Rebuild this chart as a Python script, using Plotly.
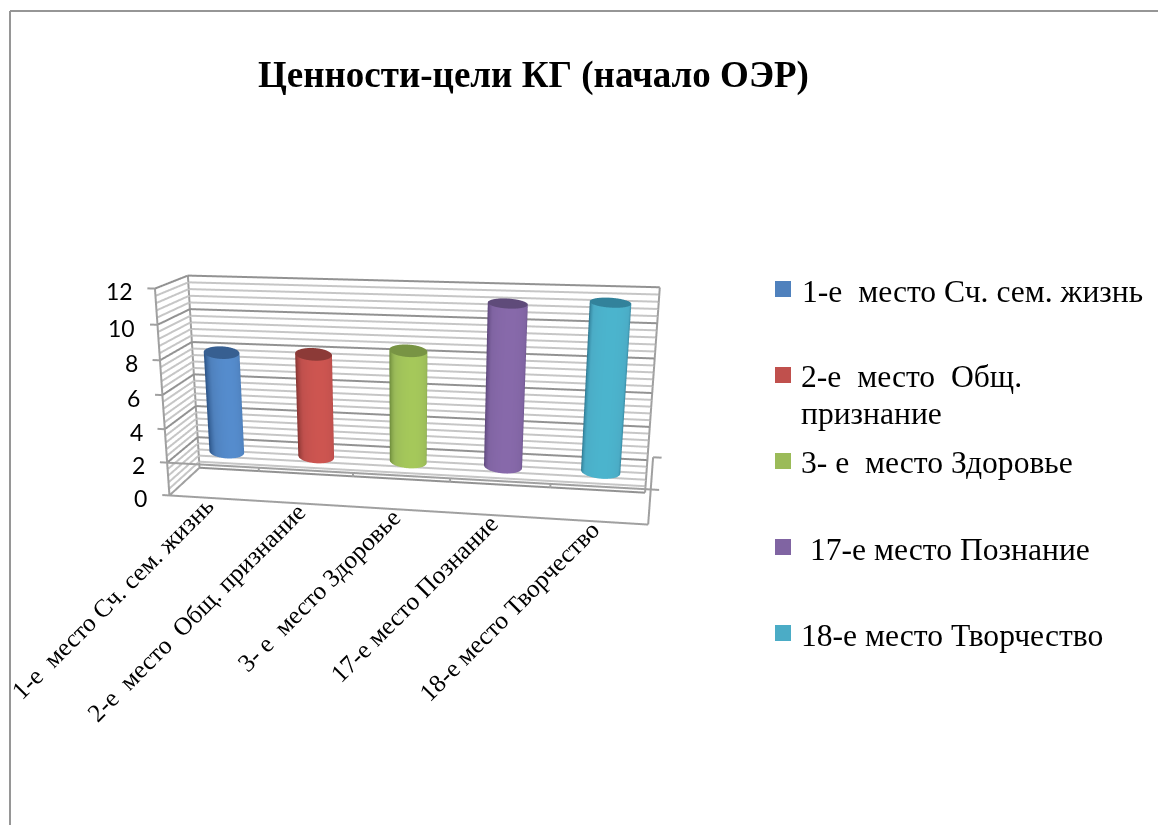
import numpy as np
import plotly.graph_objects as go

categories = ["1-е\u00a0 место Сч. сем. жизнь", "2-е\u00a0 место\u00a0 Общ. признание", "3- е\u00a0 место Здоровье",
              "17-е место Познание", "18-е место Творчество"]
values = [8.0, 8.1, 8.5, 11.3, 11.5]
z_ticks = [0, 2, 4, 6, 8, 10, 12]
axis_crossing = 2
title = "Ценности-цели КГ (начало ОЭР)"
base_colors = ["#4F81BD", "#C0504D", "#9BBB59", "#8064A2", "#4BACC6"]
dark_colors = ["#2F588C", "#8C3734", "#6E8C3C", "#5A4478", "#286E87"]
bright_colors = ["#558CCD", "#CD5550", "#A5C85A", "#8769AA", "#4BB4CD"]
lid_colors = ["#375F91", "#8C3A37", "#789444", "#5F4B7A", "#32829B"]

W, H = 1158, 825
box_depth, box_height = 0.1799, 0.4424
eye = dict(x=0.3126, y=-1.9697, z=0.5388)
center = dict(x=-0.0089, y=0, z=-0.0402)

scene = dict(
    domain=dict(x=[0, 0.6981], y=[0, 1]),
    xaxis=dict(visible=False, range=[-0.1, 5.1]),
    yaxis=dict(visible=False, range=[0, 1]),
    zaxis=dict(visible=False, range=[0, 12]),
    aspectmode="manual",
    aspectratio=dict(x=1.04, y=box_depth, z=box_height),
    camera=dict(eye=eye, center=center, up=dict(x=0, y=0, z=1)),
    bgcolor="white",
)


def segments(pairs):
    xs, ys, zs = [], [], []
    for a, b in pairs:
        xs += [a[0], b[0], None]
        ys += [a[1], b[1], None]
        zs += [a[2], b[2], None]
    return xs, ys, zs


# Wall gridlines: a major line every 2 units, four minor lines between them
minor, major = [], []
for i in range(31):
    z = i * 0.4
    (major if i % 5 == 0 else minor).extend([((0, 0, z), (0, 1, z)), ((0, 1, z), (5, 1, z))])

# Box edges, the category axis at the crossing value, and tick marks
frame = [((0, 0, 0), (0, 0, 12)), ((0, 1, 0), (0, 1, 12)), ((5, 1, 0), (5, 1, 12)),
         ((0, 0, 0), (4.97, 0, 0)), ((0, 0, 0), (0, 1, 0)),
         ((0, 0, axis_crossing), (4.97, 0, axis_crossing)),
         ((4.97, 0, 0), (4.97, 0, 3.8)),
         ((4.97, 0, axis_crossing), (5.05, 0, axis_crossing)), ((4.97, 0, 3.8), (5.05, 0, 3.8))]
frame += [((-0.08, 0, z), (0, 0, z)) for z in z_ticks]
frame += [((c, 0, axis_crossing), (c, 0, axis_crossing - 0.25)) for c in range(1, 5)]

fig = go.Figure()
for pairs, col, width in [(minor, "#c6c6c6", 4), (major, "#929292", 4), (frame, "#a0a0a0", 4)]:
    x, y, z = segments(pairs)
    fig.add_trace(go.Scatter3d(x=x, y=y, z=z, mode="lines", line=dict(color=col, width=width),
                               hoverinfo="skip", showlegend=False))

# Cylinders: shaded side surface plus a flat darker lid. The x offset along
# depth keeps the end ellipses level despite the perspective shear.
flat = dict(ambient=1, diffuse=0, specular=0, fresnel=0, roughness=1)
rad_x, rad_y_base, rad_y_top = 0.197, 0.24, 0.32
th = np.linspace(0, 2 * np.pi, 73)
for i, v in enumerate(values):
    cx, cy = i + 0.5, 0.5
    shear = 0.32 - 0.065 * i
    radii_y = np.array([rad_y_base, rad_y_top])
    Y_off = np.outer(radii_y, np.sin(th))
    X = cx + rad_x * np.cos(th) - shear * Y_off
    Y = cy + Y_off
    Z = np.outer([axis_crossing, v], np.ones(th.size))
    view = np.array([eye["x"] - (cx / 5 - 0.5), eye["y"]])
    view /= np.linalg.norm(view)
    S = np.outer(np.ones(2), np.clip(np.cos(th) * view[0] + np.sin(th) * view[1], 0, 1))
    fig.add_trace(go.Surface(x=X, y=Y, z=Z, surfacecolor=S, cmin=0, cmax=1, showscale=False,
                             lighting=flat, hoverinfo="skip",
                             colorscale=[[0, dark_colors[i]], [0.55, base_colors[i]], [1, bright_colors[i]]]))
    rr = np.array([0, 1.0])
    Y_off = np.outer(rr, rad_y_top * np.sin(th))
    X = cx + np.outer(rr, rad_x * np.cos(th)) - shear * Y_off
    Y = cy + Y_off
    fig.add_trace(go.Surface(x=X, y=Y, z=np.full(X.shape, v), surfacecolor=np.zeros(X.shape), cmin=0, cmax=1,
                             showscale=False, lighting=flat, hoverinfo="skip",
                             colorscale=[[0, lid_colors[i]], [1, lid_colors[i]]]))

labels_3d = [dict(x=-0.09, y=0, z=t, text=str(t), showarrow=False, xanchor="right", yanchor="middle",
                  xshift=-12, yshift=-3, font=dict(family="Lato", size=23, color="black")) for t in z_ticks]
labels_3d += [dict(x=i + 0.5, y=0, z=0, text=c, showarrow=False, textangle=-45, xanchor="right", yanchor="top",
                   xshift=7, yshift=9, font=dict(family="Liberation Serif", size=25.3, color="black"))
              for i, c in enumerate(categories)]
scene["annotations"] = labels_3d


def px(x):
    return x / W


def py(y):
    return 1 - y / H


shapes = [
    dict(type="line", xref="paper", yref="paper", x0=px(10), x1=px(10), y0=py(11), y1=0,
         line=dict(color="#969696", width=2)),
    dict(type="line", xref="paper", yref="paper", x0=px(10), x1=1, y0=py(11), y1=py(11),
         line=dict(color="#969696", width=2)),
]
for col, yy in zip(base_colors, [289, 375, 461, 547, 633]):
    shapes.append(dict(type="rect", xref="paper", yref="paper", x0=px(775), x1=px(791), y0=py(yy - 8), y1=py(yy + 8),
                       fillcolor=col, line=dict(width=0)))

legend_rows = [("1-е\u00a0 место Сч. сем. жизнь", 800, 291), ("2-е\u00a0 место\u00a0 Общ.", 799, 376),
               ("признание", 799, 413), ("3- е\u00a0 место Здоровье", 799, 463),
               ("17-е место Познание", 808, 549), ("18-е место Творчество", 799, 635)]
notes = [dict(xref="paper", yref="paper", x=px(256), y=py(75), text=f"<b>{title}</b>", showarrow=False,
              xanchor="left", yanchor="middle", font=dict(family="Liberation Serif", size=37, color="black"))]
for t, x, y in legend_rows:
    notes.append(dict(xref="paper", yref="paper", x=px(x), y=py(y), text=t, showarrow=False, xanchor="left",
                      yanchor="middle", font=dict(family="Liberation Serif", size=31.6, color="black")))

fig.update_layout(width=W, height=H, margin=dict(l=0, r=0, t=0, b=0), paper_bgcolor="white", showlegend=False,
                  scene=scene, shapes=shapes, annotations=notes)
fig.write_html("out.html", config=dict(displayModeBar=False))
